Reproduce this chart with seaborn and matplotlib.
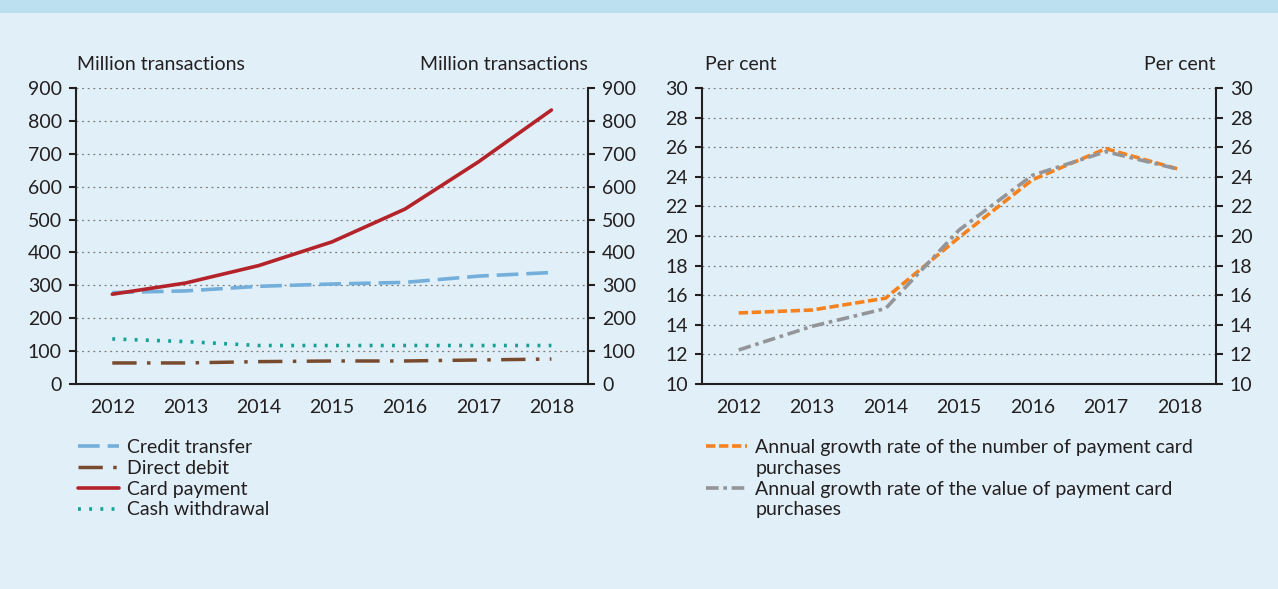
import numpy as np
import pandas as pd
import matplotlib
matplotlib.use("Agg")
import matplotlib.pyplot as plt
from matplotlib.patches import Rectangle
from matplotlib.lines import Line2D
from matplotlib.ticker import FixedLocator, NullFormatter
import seaborn as sns

# data
years = [2012, 2013, 2014, 2015, 2016, 2017, 2018]
credit_transfer = [278, 283, 297, 304, 309, 328, 339]
direct_debit = [64, 64, 68, 70, 70, 73, 76]
card_payment = [273, 307, 360, 432, 532, 675, 833]
cash_withdrawal = [137, 129, 117, 117, 117, 117, 117]
growth_number = [14.8, 15.0, 15.8, 19.9, 23.8, 25.9, 24.5]
growth_value = [12.3, 13.9, 15.1, 20.4, 24.1, 25.7, 24.5]

left_labels = ["Credit transfer", "Direct debit", "Card payment", "Cash withdrawal"]
right_labels = ["Annual growth rate of the number of payment card", "purchases",
                "Annual growth rate of the value of payment card", "purchases"]

BG = "#e1f0f8"
HEADER = "#bde0f1"
INK = "#231f20"

sns.set_style("white")
plt.rcParams["font.family"] = ["Lato", "DejaVu Sans"]
plt.rcParams["font.size"] = 14
plt.rcParams["text.color"] = INK

fig = plt.figure(figsize=(12.78, 5.89), dpi=100, facecolor=BG)
fig.patches.append(Rectangle((0, 1 - 13 / 589), 1, 13 / 589, transform=fig.transFigure,
                             facecolor=HEADER, edgecolor="none", zorder=0))

ax1 = fig.add_axes([75.7 / 1278, 1 - 384 / 589, (588 - 75.7) / 1278, 296 / 589])
ax2 = fig.add_axes([702 / 1278, 1 - 384 / 589, (1216 - 702) / 1278, 296 / 589])


def style_axes(ax, ylim, ystep):
    ax.set_facecolor(BG)
    ax.set_xlim(years[0] - 0.5, years[-1] + 0.5)
    ax.set_ylim(*ylim)
    ax.set_yticks(np.arange(ylim[0], ylim[1] + ystep / 2, ystep))
    ax.xaxis.set_major_locator(FixedLocator(np.arange(years[0] - 0.5, years[-1] + 1, 1)))
    ax.xaxis.set_major_formatter(NullFormatter())
    ax.xaxis.set_minor_locator(FixedLocator(years))
    ax.set_xticklabels([str(y) for y in years], minor=True)
    ax.tick_params(axis="x", which="major", direction="out", length=5, width=1.5, color=INK)
    ax.tick_params(axis="x", which="minor", length=0, pad=11, labelcolor=INK)
    ax.tick_params(axis="y", direction="out", length=5, width=1.5, color=INK,
                   left=True, right=True, labelleft=True, labelright=True, labelcolor=INK, pad=5)
    for side in ["left", "right", "bottom"]:
        ax.spines[side].set_visible(True)
        ax.spines[side].set_color(INK)
        ax.spines[side].set_linewidth(1.5)
    ax.spines["top"].set_visible(False)
    ax.yaxis.grid(True, linestyle=(0, (1.5, 3)), color="#7a7a7a", linewidth=0.9)
    ax.set_axisbelow(True)
    ax.set_xlabel("")
    ax.set_ylabel("")


style_axes(ax1, (0, 900), 100)
style_axes(ax2, (10, 30), 2)

sns.lineplot(x=years, y=credit_transfer, ax=ax1, color="#74afdc", linewidth=2.6,
             linestyle=(0, (6, 2.2)), label=left_labels[0])
sns.lineplot(x=years, y=direct_debit, ax=ax1, color="#784a2e", linewidth=2.5,
             linestyle=(0, (7, 3, 1, 3)), label=left_labels[1])
sns.lineplot(x=years, y=card_payment, ax=ax1, color="#b5232a", linewidth=2.6,
             linestyle="-", label=left_labels[2])
sns.lineplot(x=years, y=cash_withdrawal, ax=ax1, color="#14a294", linewidth=2.6,
             linestyle=(0, (0.8, 2.3)), label=left_labels[3])

sns.lineplot(x=years, y=growth_number, ax=ax2, color="#f5821f", linewidth=2.6,
             linestyle=(0, (2.6, 1)), label=right_labels[0])
sns.lineplot(x=years, y=growth_value, ax=ax2, color="#939598", linewidth=2.6,
             linestyle=(0, (3.5, 1.3, 1, 1.3)), label=right_labels[2])

ax1.legend(loc="upper left", bbox_to_anchor=(70 / 1278, 1 - 431 / 589), bbox_transform=fig.transFigure,
           frameon=False, handlelength=2.1, handletextpad=0.45, labelspacing=0.2, borderaxespad=0)

# second lines of the long labels go in as entries with blank handles
h = ax2.get_legend_handles_labels()[0]
blank = Line2D([], [], linestyle="none")
ax2.legend([h[0], blank, h[1], blank], right_labels, loc="upper left",
           bbox_to_anchor=(698 / 1278, 1 - 431 / 589), bbox_transform=fig.transFigure,
           frameon=False, handlelength=2.1, handletextpad=0.45, labelspacing=0.2, borderaxespad=0)

fig.text(77 / 1278, 1 - 64 / 589, "Million transactions", ha="left", va="center")
fig.text(588 / 1278, 1 - 64 / 589, "Million transactions", ha="right", va="center")
fig.text(705 / 1278, 1 - 64 / 589, "Per cent", ha="left", va="center")
fig.text(1216 / 1278, 1 - 64 / 589, "Per cent", ha="right", va="center")

fig.savefig("out.png", dpi=100, facecolor=BG)
